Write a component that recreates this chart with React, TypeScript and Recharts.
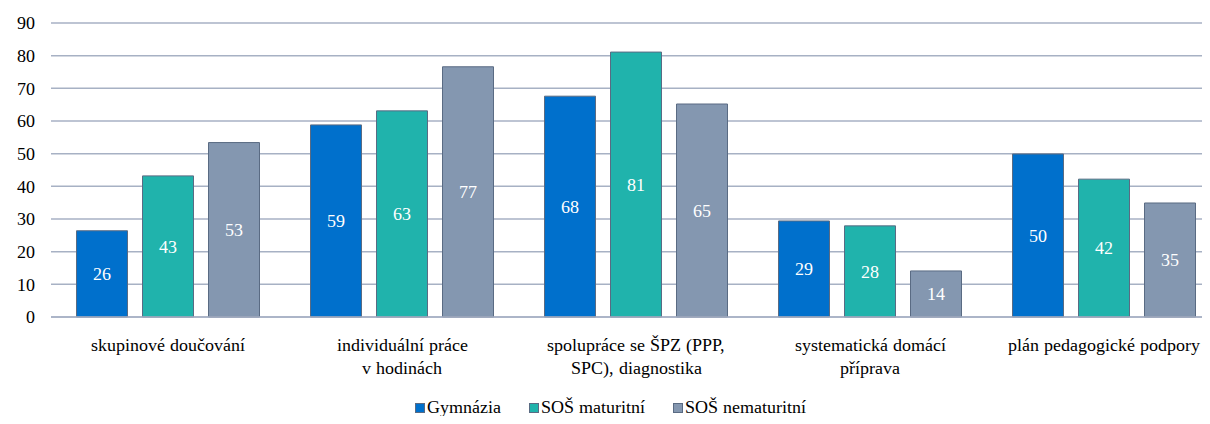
import { Bar, BarChart, CartesianGrid, LabelList, Legend, XAxis, YAxis } from 'recharts'

const categories = [
  'skupinové doučování',
  'individuální práce\nv hodinách',
  'spolupráce se ŠPZ (PPP,\nSPC), diagnostika',
  'systematická domácí\npříprava',
  'plán pedagogické podpory',
]
const gymnazia = [26.4, 58.8, 67.6, 29.4, 49.9]
const sosMaturitni = [43.2, 63.1, 81.1, 27.9, 42.2]
const sosNematuritni = [53.4, 76.6, 65.2, 14.1, 34.9]
const yTicks = [0, 10, 20, 30, 40, 50, 60, 70, 80, 90]

const series = [
  { key: 'gym', name: 'Gymnázia', color: '#0070CC' },
  { key: 'mat', name: 'SOŠ maturitní', color: '#20B3AC' },
  { key: 'nemat', name: 'SOŠ nematuritní', color: '#8497B0' },
]

const data = categories.map((label, i) => ({
  label,
  gym: gymnazia[i],
  mat: sosMaturitni[i],
  nemat: sosNematuritni[i],
}))

const FONT = 'ChartSerif, Tinos, "Liberation Serif", serif'
const GRID = '#A7B1C4'
const fontCss = `@font-face { font-family: 'ChartSerif'; src: local('Liberation Serif'), local('LiberationSerif'), local('Tinos'); }
.chart-root, .chart-root text, .chart-root tspan { font-family: ${FONT} !important; }`

function CategoryTick({ x, y, payload }: any) {
  const lines = String(payload.value).split('\n')
  return (
    <text x={x} y={y} textAnchor="middle" fontFamily={FONT} fontSize={18} fill="#000">
      {lines.map((line, i) => (
        <tspan key={i} x={x} dy={i === 0 ? 34 : 23}>{line}</tspan>
      ))}
    </text>
  )
}

function ChartLegend() {
  return (
    <div style={{ display: 'flex', justifyContent: 'center', gap: 28, fontFamily: FONT, fontSize: 18, color: '#000' }}>
      {series.map((s) => (
        <span key={s.key} style={{ display: 'flex', alignItems: 'center' }}>
          <span style={{ width: 10, height: 10, background: s.color, border: '1px solid #5A6B83', boxSizing: 'border-box', marginRight: 2 }} />
          {s.name}
        </span>
      ))}
    </div>
  )
}

export default function App() {
  return (
    <div className="chart-root" style={{ margin: -8, width: 1210, height: 424, overflow: 'hidden', fontFamily: FONT }}>
      <style>{fontCss}</style>
      <BarChart
        width={1226}
        height={424}
        data={data}
        margin={{ top: 23, right: 5, bottom: 3, left: 0 }}
        barGap={15}
        barCategoryGap={25.5}
      >
        <CartesianGrid vertical={false} stroke={GRID} strokeWidth={1.5} />
        <XAxis
          dataKey="label"
          height={80}
          axisLine={{ stroke: GRID, strokeWidth: 1.5 }}
          tickLine={false}
          tickSize={0}
          tickMargin={0}
          interval={0}
          tick={<CategoryTick />}
        />
        <YAxis
          width={51}
          domain={[0, 90]}
          ticks={yTicks}
          axisLine={false}
          tickLine={false}
          tickSize={0}
          tickMargin={16}
          tick={{ fontFamily: FONT, fontSize: 18, fill: '#000' }}
        />
        <Legend verticalAlign="bottom" height={24} content={<ChartLegend />} />
        {series.map((s) => (
          <Bar key={s.key} dataKey={s.key} name={s.name} fill={s.color} stroke="#5A6B83" strokeWidth={1} isAnimationActive={false}>
            <LabelList
              dataKey={s.key}
              position="center"
              formatter={(v: any) => Math.round(Number(v))}
              fill="#fff"
              fontFamily={FONT}
              fontSize={18}
            />
          </Bar>
        ))}
      </BarChart>
    </div>
  )
}
